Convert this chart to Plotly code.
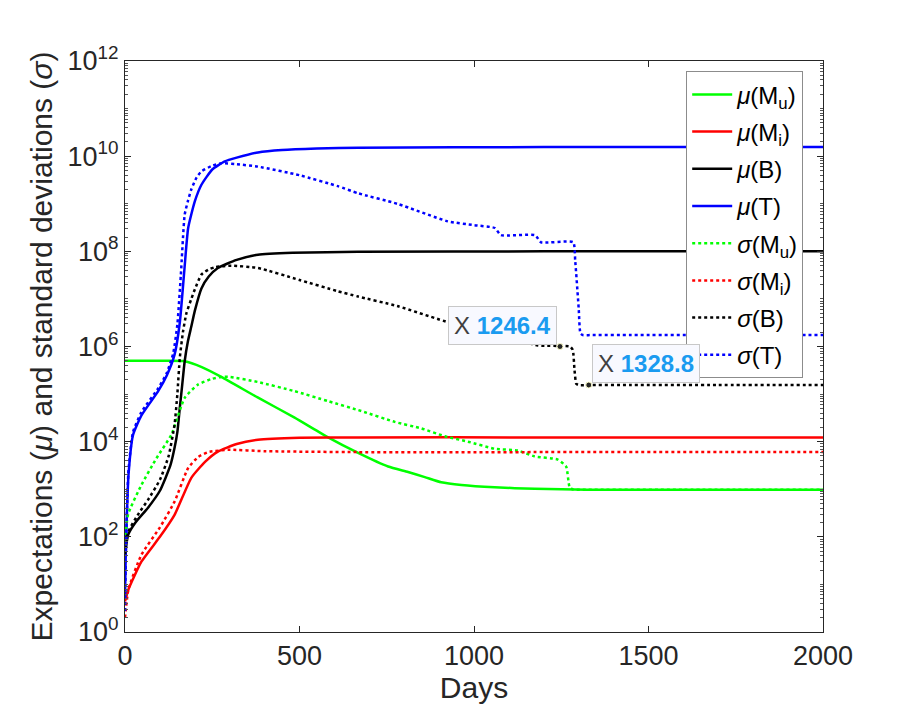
import plotly.graph_objects as go

# values (days vs expectation / std dev)
x_mu_Mu = [0, 100, 171, 220, 276, 380, 486, 582, 668, 754, 811, 859, 906, 964, 1059, 1174, 1326, 1600, 2000]
mu_Mu = [5.0e5, 5.0e5, 4.9e5, 3.7e5, 2.3e5, 8.5e4, 3.2e4, 1.23e4, 5.8e3, 3.0e3, 2.3e3, 1.8e3, 1.4e3,
         1.23e3, 1.1e3, 1.02e3, 980, 980, 980]

x_mu_Mi = [0, 10, 47, 100, 142, 190, 230, 266, 320, 381, 500, 668, 1200, 2000]
mu_Mi = [4.4, 7.9, 30, 100, 290, 1740, 3800, 6170, 8910, 10960, 12020, 12300, 12300, 12300]

x_mu_B = [0, 9, 30, 66, 100, 130, 142, 150, 157, 164, 171, 180, 190, 200, 219, 240, 266, 320, 381, 480,
          668, 1200, 2000]
mu_B = [42, 110, 200, 410, 930, 3160, 7410, 15850, 51300, 1.58e5, 4.9e5, 1.26e6, 2.63e6, 5.6e6, 1.66e7,
        2.95e7, 4.47e7, 6.6e7, 8.5e7, 9.3e7, 9.8e7, 1.0e8, 1.0e8]

x_mu_T = [0, 2, 5, 10, 23, 47, 95, 120, 142, 157, 170, 181, 200, 219, 250, 286, 320, 381, 450, 550, 668,
          1200, 2000]
mu_T = [5.0, 40, 250, 2000, 13800, 35500, 1.15e5, 2.5e5, 6.76e5, 3.16e6, 3.98e7, 3.09e8, 1.12e9, 2.51e9,
        5.25e9, 7.76e9, 9.3e9, 1.2e10, 1.35e10, 1.45e10, 1.51e10, 1.55e10, 1.55e10]

x_sd_Mu = [0, 9, 47, 90, 133, 171, 209, 250, 276, 300, 380, 486, 582, 677, 773, 849, 916, 983, 1059,
           1126, 1174, 1240, 1264, 1274, 1285, 1320, 1600, 2000]
sd_Mu = [81, 300, 1230, 4470, 14100, 83200, 1.58e5, 2.1e5, 2.29e5, 2.29e5, 1.8e5, 1.15e5, 7.1e4, 4.4e4,
         2.6e4, 1.9e4, 1.3e4, 1.0e4, 7.1e3, 6.5e3, 4.9e3, 4.2e3, 3.0e3, 1.1e3, 980, 980, 980, 980]

x_sd_Mi = [0, 10, 47, 100, 142, 181, 210, 238, 295, 400, 668, 1200, 2000]
sd_Mi = [2.0, 7.9, 42, 158, 550, 2800, 4790, 6030, 6760, 6310, 6030, 6030, 6030]

x_sd_B = [0, 9, 40, 66, 100, 125, 142, 150, 157, 166, 176, 190, 200, 219, 240, 260, 305, 381, 500, 610,
          668, 780, 934, 1100, 1183, 1275, 1283, 1288, 1293, 1300, 1330, 1450, 1700, 2000]
sd_B = [42, 126, 316, 600, 1580, 5000, 22900, 1.0e5, 5.75e5, 2.0e6, 5.0e6, 1.0e7, 1.58e7, 3.24e7, 4.17e7,
        4.68e7, 5.0e7, 4.47e7, 2.5e7, 1.45e7, 1.12e7, 7.1e6, 3.1e6, 1.6e6, 1.05e6, 1.0e6, 8.5e5, 3.2e5,
        1.65e5, 1.55e5, 1.55e5, 1.55e5, 1.55e5, 1.55e5]

x_sd_T = [0, 2, 5, 10, 23, 47, 95, 120, 138, 150, 160, 171, 180, 190, 205, 219, 250, 276, 320, 381, 500,
          610, 668, 780, 925, 1000, 1060, 1077, 1175, 1192, 1284, 1290, 1300, 1305, 1312, 1340, 1450, 1700,
          2000]
sd_T = [2.75, 32, 250, 2500, 15850, 41700, 1.32e5, 2.8e5, 7.08e5, 2.88e6, 3.16e7, 5.9e8, 1.12e9, 2.0e9,
        3.55e9, 4.79e9, 6.3e9, 7.08e9, 6.76e9, 6.03e9, 3.98e9, 2.34e9, 1.66e9, 1.0e9, 4.27e8, 3.55e8,
        3.09e8, 2.19e8, 2.19e8, 1.55e8, 1.55e8, 6.3e7, 6.3e6, 1.9e6, 1.74e6, 1.74e6, 1.74e6, 1.74e6, 1.74e6]

# data tips
tip_x = [1246.4, 1328.8]
tip_y = [1.0e6, 1.55e5]
tip_labels = ["1246.4", "1328.8"]

font = "Liberation Sans, Arial, sans-serif"

series = [
    ("<i>μ</i>(M<sub>u</sub>)", x_mu_Mu, mu_Mu, "#00ff00", "solid"),
    ("<i>μ</i>(M<sub>i</sub>)", x_mu_Mi, mu_Mi, "#ff0000", "solid"),
    ("<i>μ</i>(B)", x_mu_B, mu_B, "#000000", "solid"),
    ("<i>μ</i>(T)", x_mu_T, mu_T, "#0000ff", "solid"),
    ("<i>σ</i>(M<sub>u</sub>)", x_sd_Mu, sd_Mu, "#00ff00", "dot"),
    ("<i>σ</i>(M<sub>i</sub>)", x_sd_Mi, sd_Mi, "#ff0000", "dot"),
    ("<i>σ</i>(B)", x_sd_B, sd_B, "#000000", "dot"),
    ("<i>σ</i>(T)", x_sd_T, sd_T, "#0000ff", "dot"),
]

fig = go.Figure()
for i, (name, xs, ys, col, dash) in enumerate(series):
    fig.add_trace(go.Scatter(x=xs, y=ys, mode="lines", name=name, legendgroup="g%d" % i,
                             line=dict(color=col, width=2.5, dash=dash, shape="spline", smoothing=0.5)))

fig.add_trace(go.Scatter(x=tip_x, y=tip_y, mode="markers", showlegend=False,
                         marker=dict(size=6, color="#262626", line=dict(color="#ffffcc", width=1))))

# datatip boxes (first sits up-left of its point, second up-right)
anchors = [("right", -3), ("left", 3)]
for tx, ty, lab, (xa, xs) in zip(tip_x, tip_y, tip_labels, anchors):
    fig.add_annotation(x=tx, y=ty, xref="x", yref="y", showarrow=False,
                       xanchor=xa, yanchor="bottom", xshift=xs, yshift=2,
                       text="<span style='color:#404040'>X</span> <b><span style='color:#1a9bf0'>%s</span></b>" % lab,
                       font=dict(family=font, size=24), bgcolor="#f8f9ff", bordercolor="#c8c8c8",
                       borderwidth=1, borderpad=5)
# annotation y on a log axis is in log10 units
fig.layout.annotations[0].y = 6.0
fig.layout.annotations[1].y = 5.19

fig.update_layout(
    width=900, height=706,
    margin=dict(l=117, r=85, t=53, b=82),
    paper_bgcolor="white", plot_bgcolor="white",
    font=dict(family=font, color="#262626"),
    showlegend=True,
    legend=dict(x=0.804, y=0.982, xanchor="left", yanchor="top",
                bgcolor="white", bordercolor="#8c8c8c", borderwidth=1,
                font=dict(family=font, size=24, color="#000000"),
                itemwidth=40, tracegroupgap=3),
)

fig.update_xaxes(range=[0, 2000], tickvals=[0, 500, 1000, 1500, 2000],
                 ticks="inside", ticklen=6, tickcolor="#262626",
                 showline=True, linecolor="#262626", linewidth=1, mirror="ticks",
                 showgrid=False, zeroline=False,
                 tickfont=dict(size=27, color="#262626"),
                 title=dict(text="Days", font=dict(size=30, color="#262626"), standoff=6))

fig.update_yaxes(type="log", range=[0, 12],
                 tickvals=[1, 1e2, 1e4, 1e6, 1e8, 1e10, 1e12],
                 ticktext=["10<sup>0</sup>", "10<sup>2</sup>", "10<sup>4</sup>", "10<sup>6</sup>",
                           "10<sup>8</sup>", "10<sup>10</sup>", "10<sup>12</sup>"],
                 ticks="inside", ticklen=6, tickcolor="#262626",
                 minor=dict(ticks="inside", ticklen=3, tickcolor="#555555", dtick="D1", showgrid=False),
                 showline=True, linecolor="#262626", linewidth=1, mirror="ticks",
                 showgrid=False, zeroline=False,
                 tickfont=dict(size=27, color="#262626"),
                 title=dict(text="Expectations (<i>μ</i>) and standard deviations (<i>σ</i>)",
                            font=dict(size=30, color="#262626"), standoff=6))

fig.write_html("out.html")
